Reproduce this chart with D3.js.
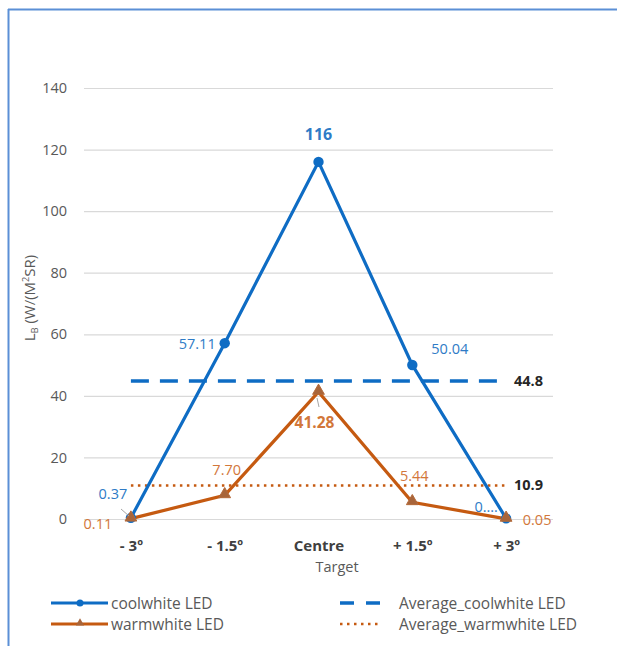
<!DOCTYPE html>
<html><head><meta charset="utf-8">
<script src="https://cdn.jsdelivr.net/npm/d3@7"></script>
<style>body{margin:0;background:#fff}svg{display:block;font-family:"Open Sans","Noto Sans",sans-serif}</style>
</head><body>
<script>
const categories = ["- 3º", "- 1.5º", "Centre", "+ 1.5º", "+ 3º"];
const coolwhite = [0.37, 57.11, 116, 50.04, 0.2];
const warmwhite = [0.11, 7.70, 41.28, 5.44, 0.05];
const coolLabels = ["0.37", "57.11", "116", "50.04", "0.…"];
const warmLabels = ["0.11", "7.70", "41.28", "5.44", "0.05"];
const avgCool = 44.8;
const avgWarm = 10.9;
const yTicks = [0, 20, 40, 60, 80, 100, 120, 140];

const W = 617, H = 646;
const blue = "#0E6CC4", orange = "#C55A11";
const blueText = "#2E7BC6", orangeText = "#D2773A";

const svg = d3.select("body").append("svg").attr("width", W).attr("height", H);
svg.append("rect").attr("width", W).attr("height", H).attr("fill", "#fff");
// frame
svg.append("line").attr("x1", 8).attr("x2", W).attr("y1", 9.5).attr("y2", 9.5).attr("stroke", "#5B8FD6").attr("stroke-width", 2);
svg.append("line").attr("x1", 8.5).attr("x2", 8.5).attr("y1", 9).attr("y2", H).attr("stroke", "#5B8FD6").attr("stroke-width", 2);

const x = d3.scalePoint().domain(categories).range([84, 553]).padding(0.5);
const y = d3.scaleLinear().domain([0, 140]).range([519, 88]);

// grid
const gAxis = svg.append("g").attr("transform", "translate(84,0)")
  .call(d3.axisLeft(y).tickValues(yTicks).tickSize(-469).tickPadding(17).tickFormat(d3.format("d")));
gAxis.select(".domain").remove();
gAxis.selectAll(".tick line").attr("stroke", "#d9d9d9").attr("stroke-width", 1.2);
gAxis.selectAll(".tick text").attr("fill", "#595959").attr("font-size", 14.5).attr("font-family", "Open Sans");

// x axis labels
const gx = svg.append("g").attr("transform", "translate(0,519)")
  .call(d3.axisBottom(x).tickSize(0).tickPadding(21));
gx.select(".domain").remove();
gx.selectAll(".tick text").attr("fill", "#404040").attr("font-size", 15).attr("font-weight", "bold").attr("font-family", "Open Sans");

svg.append("text").attr("x", 337).attr("y", 572).attr("text-anchor", "middle")
  .attr("fill", "#595959").attr("font-size", 14.5).text("Target");

// y title
const yt = svg.append("text").attr("transform", "translate(35,298) rotate(-90)")
  .attr("text-anchor", "middle").attr("fill", "#595959").attr("font-size", 15);
yt.append("tspan").text("L");
yt.append("tspan").attr("font-size", 9).attr("dy", 3).text("B");
yt.append("tspan").attr("dy", -3).text(" (W/(M");
yt.append("tspan").attr("font-size", 9).attr("dy", -6).text("2");
yt.append("tspan").attr("dy", 6).text("SR)");

// average lines
svg.append("line").attr("x1", x(categories[0])).attr("x2", x(categories[4]))
  .attr("y1", y(avgCool)).attr("y2", y(avgCool)).attr("stroke", blue).attr("stroke-width", 3.5).attr("stroke-dasharray", "18,11");
svg.append("line").attr("x1", x(categories[0])).attr("x2", x(categories[4]))
  .attr("y1", y(avgWarm)).attr("y2", y(avgWarm)).attr("stroke", orange).attr("stroke-width", 2.5).attr("stroke-dasharray", "2.5,4.5");
svg.append("text").attr("x", 514).attr("y", y(avgCool) + 5).attr("fill", "#262626").attr("font-size", 14.5).attr("font-weight", "bold").text(avgCool.toFixed(1));
svg.append("text").attr("x", 514).attr("y", y(avgWarm) + 5).attr("fill", "#262626").attr("font-size", 14.5).attr("font-weight", "bold").text(avgWarm.toFixed(1));

const line = d3.line().x((d, i) => x(categories[i])).y(d => y(d));
// warm series
svg.append("path").datum(warmwhite).attr("d", line).attr("fill", "none").attr("stroke", orange).attr("stroke-width", 3.2);
// cool series
svg.append("path").datum(coolwhite).attr("d", line).attr("fill", "none").attr("stroke", blue).attr("stroke-width", 3.2);
svg.selectAll(".cm").data(coolwhite).join("circle").attr("cx", (d, i) => x(categories[i])).attr("cy", d => y(d)).attr("r", 5.2).attr("fill", blue);
const tri = d3.symbol().type(d3.symbolTriangle).size(60);
svg.selectAll(".wm").data(warmwhite).join("path").attr("d", tri)
  .attr("transform", (d, i) => `translate(${x(categories[i])},${y(d) - 1})`).attr("fill", "#A8653A").attr("stroke", "#B46A3A").attr("stroke-width", 1);

// leader lines
svg.append("line").attr("x1", 121).attr("y1", 509).attr("x2", 129).attr("y2", 516).attr("stroke", "#a6a6a6").attr("stroke-width", 1);
svg.append("line").attr("x1", 317).attr("y1", 398).attr("x2", 319).attr("y2", 407).attr("stroke", "#a6a6a6").attr("stroke-width", 1);

// data labels
const coolOff = [[-18, -19, "middle"], [-9, 6, "end"], [0, -22, "middle"], [19, -11, "start"], [-20, -6, "middle"]];
svg.selectAll(".cl").data(coolLabels).join("text")
  .attr("x", (d, i) => x(categories[i]) + coolOff[i][0])
  .attr("y", (d, i) => y(coolwhite[i]) + coolOff[i][1])
  .attr("text-anchor", (d, i) => coolOff[i][2])
  .attr("fill", blueText)
  .attr("font-weight", (d, i) => i === 2 ? "bold" : "normal")
  .attr("font-size", (d, i) => i === 2 ? 16 : 14.5)
  .text(d => d);
const warmOff = [[-33, 10, "middle"], [2, -20, "middle"], [-4, 36, "middle"], [2, -21, "middle"], [31, 6, "middle"]];
svg.selectAll(".wl").data(warmLabels).join("text")
  .attr("x", (d, i) => x(categories[i]) + warmOff[i][0])
  .attr("y", (d, i) => y(warmwhite[i]) + warmOff[i][1])
  .attr("text-anchor", (d, i) => warmOff[i][2])
  .attr("fill", orangeText)
  .attr("font-weight", (d, i) => i === 2 ? "bold" : "normal")
  .attr("font-size", (d, i) => i === 2 ? 15.5 : 14.5)
  .text(d => d);

// legend
const lg = svg.append("g").attr("font-size", 15.5).attr("fill", "#595959");
lg.append("line").attr("x1", 51).attr("x2", 108).attr("y1", 603).attr("y2", 603).attr("stroke", blue).attr("stroke-width", 3);
lg.append("circle").attr("cx", 80).attr("cy", 603).attr("r", 3.5).attr("fill", blue);
lg.append("text").attr("x", 111).attr("y", 608.5).attr("fill", "#595959").text("coolwhite LED");
lg.append("line").attr("x1", 51).attr("x2", 108).attr("y1", 624).attr("y2", 624).attr("stroke", orange).attr("stroke-width", 3);
lg.append("path").attr("d", d3.symbol().type(d3.symbolTriangle).size(30)).attr("transform", "translate(80,623)").attr("fill", "#A8653A");
lg.append("text").attr("x", 111).attr("y", 629.5).attr("fill", "#595959").text("warmwhite LED");
lg.append("line").attr("x1", 340).attr("x2", 380).attr("y1", 603).attr("y2", 603).attr("stroke", blue).attr("stroke-width", 3.5).attr("stroke-dasharray", "14,12");
lg.append("text").attr("x", 399).attr("y", 608.5).attr("fill", "#595959").text("Average_coolwhite LED");
lg.append("line").attr("x1", 340).attr("x2", 382).attr("y1", 624).attr("y2", 624).attr("stroke", orange).attr("stroke-width", 2.5).attr("stroke-dasharray", "2.5,4.5");
lg.append("text").attr("x", 399).attr("y", 629.5).attr("fill", "#595959").text("Average_warmwhite LED");
</script>
</body></html>
